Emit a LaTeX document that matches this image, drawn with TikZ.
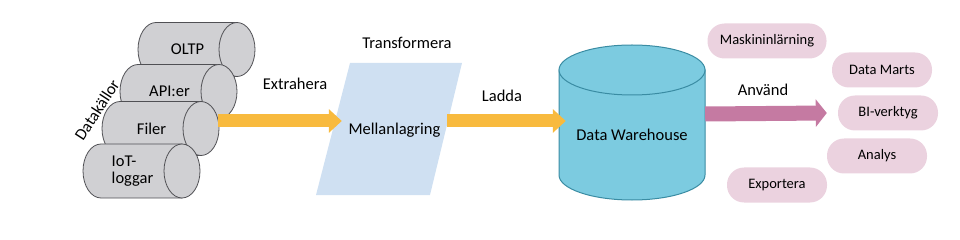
\documentclass[tikz,border=0pt]{standalone}
\usepackage{fontspec}
\setmainfont{Carlito}
\usetikzlibrary{arrows.meta}

\definecolor{srcgray}{HTML}{D0D0D3}
\definecolor{srcedge}{HTML}{505054}
\definecolor{stageblue}{HTML}{CFE0F2}
\definecolor{dwfill}{HTML}{7CCBE0}
\definecolor{dwedge}{HTML}{3A8CA3}
\definecolor{etlyellow}{HTML}{F8BA3E}
\definecolor{usepink}{HTML}{C57AA2}
\definecolor{consumer}{HTML}{EBD2DF}

\tikzset{
  drum/.style={draw=srcedge, fill=srcgray, line width=0.8pt},
  srclabel/.style={minimum width=99pt, minimum height=54pt, inner sep=0pt, align=left},
  etl/.style={draw=etlyellow, line width=13pt, -{Triangle[length=13pt,width=23pt]}},
  use/.style={draw=usepink, line width=15pt, -{Triangle[length=11pt,width=27pt]}},
  target/.style={fill=consumer, rounded corners=17pt, minimum height=35pt,
    minimum width=100pt, inner sep=2pt, font=\fontsize{14.5}{17}\selectfont},
  lbl/.style={inner sep=0pt}
}

\begin{document}
\begin{tikzpicture}[x=1pt,y=-1pt,font=\fontsize{16.5}{17}\selectfont]
\useasboundingbox (0,0) rectangle (960,240);

% sources, back to front
\foreach \name/\left/\mid/\txt in {oltp/138/49.5/OLTP, api/120/91.5/API:er,
    filer/102/128.5/Filer, iot/83/171/{IoT-\\loggar}} {
  \draw[drum] (\left+99,\mid-27) -- (\left+18,\mid-27)
    arc[start angle=90, end angle=270, x radius=18pt, y radius=27pt]
    -- (\left+99,\mid+27) -- cycle;
  \draw[drum] (\left+99,\mid) ellipse [x radius=18pt, y radius=27pt];
  \node (\name) [srclabel] at (\left+49.5,\mid) {\txt};
}
\node (kallor) [lbl, rotate=57] at (97,110) {Datakällor};

% staging
\fill[stageblue] (350,63) -- (462,63) -- (430,195) -- (316,195) -- cycle;
\node (stage) [lbl, minimum width=105pt] at (394.5,130) {Mellanlagring};
\node (transf) [lbl] at (407,43) {Transformera};

% warehouse
\draw[draw=dwedge, fill=dwfill, line width=1pt] (559,70) -- (559,175)
  arc[start angle=180, end angle=360, x radius=73pt, y radius=25pt] -- (705,70) -- cycle;
\draw[draw=dwedge, fill=dwfill, line width=1pt] (632,70) ellipse [x radius=73pt, y radius=25pt];
\node (dw) [lbl, minimum width=146pt] at (632,135) {Data Warehouse};

% consumers
\node (ml) [target, minimum width=119pt] at (767,41) {Maskininlärning};
\node (marts) [target] at (882,70) {Data Marts};
\node (bi) [target] at (888,113) {BI-verktyg};
\node (analys) [target] at (877,156) {Analys};
\node (export) [target] at (777,185) {Exportera};

% flows
\draw[etl] ([xshift=17pt,yshift=7.5pt]filer.east) -- ([yshift=9pt]stage.west);
\node (extr) [lbl] at (295,84) {Extrahera};
\draw[etl] ([yshift=9pt]stage.east) -- ([xshift=7pt,yshift=14pt]dw.west);
\node (ladda) [lbl] at (502,96) {Ladda};
\draw[use] ([yshift=21pt]dw.east) -- ([xshift=-11pt]bi.west);
\node (anvand) [lbl] at (763,90) {Använd};
\end{tikzpicture}
\end{document}
